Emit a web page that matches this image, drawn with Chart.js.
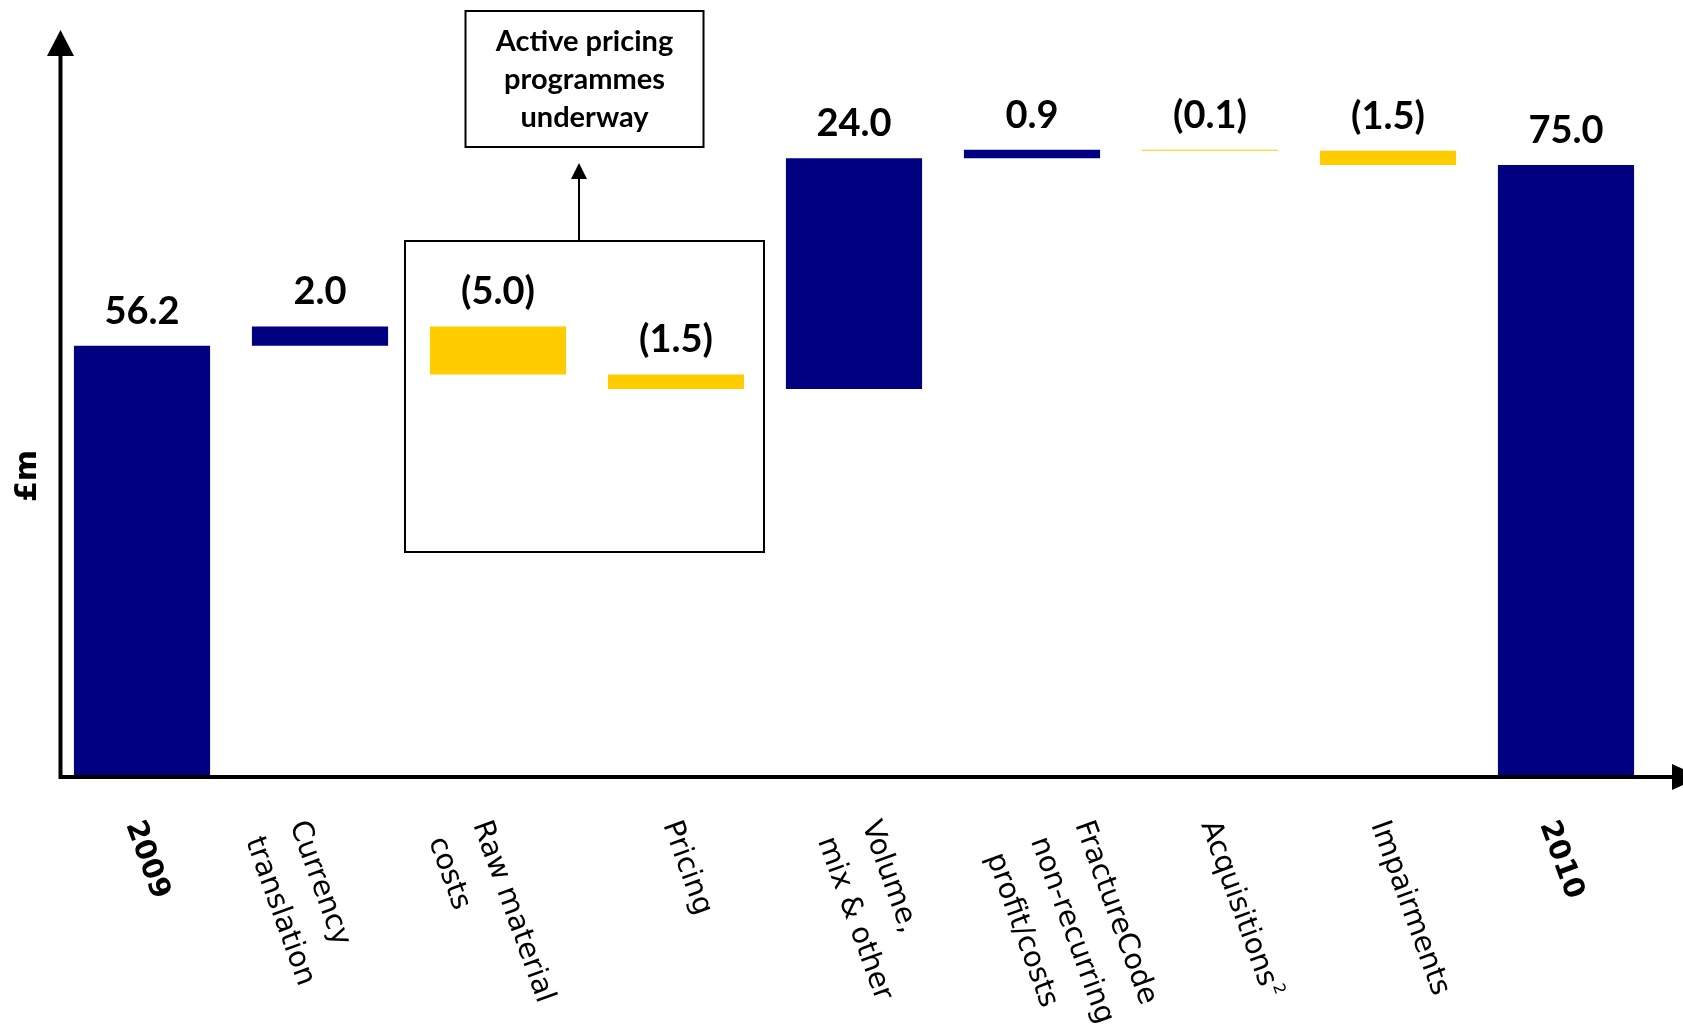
<!DOCTYPE html>
<html>
<head>
<meta charset="utf-8">
<title>Operating profit bridge 2009 - 2010</title>
<script src="https://cdn.jsdelivr.net/npm/chart.js@4.4.1/dist/chart.umd.min.js"></script>
<style>
  html, body { margin: 0; padding: 0; background: #fff; }
  canvas { display: block; }
</style>
</head>
<body>
<canvas id="bridge" width="1683" height="1028"></canvas>
<script>
'use strict';

// bridge steps (each entry is one label, split into its lines)
const steps = [
  ['2009'],
  ['Currency', 'translation'],
  ['Raw material', 'costs'],
  ['Pricing'],
  ['Volume,', 'mix & other'],
  ['FractureCode', 'non-recurring', 'profit/costs'],
  ['Acquisitions'],
  ['Impairments'],
  ['2010']
];
// £m, totals for the two years, movements in between
const movements = [56.2, 2.0, -5.0, -1.5, 24.0, 0.9, -0.1, -1.5, 75.0];
const isTotal = [true, false, false, false, false, false, false, false, true];
const footnotes = ['', '', '', '', '', '', '2', '', ''];

const Y_FLOOR = 11.5;
const Y_CEIL = 90;

const NAVY = '#000080';
const GOLD = '#FFCC00';

// small sideways nudges for the slanted category labels
const labelNudge = [-9, -23, -18, -6, 15, 50, -2, -10, -19];

// floating ranges for the waterfall
let running = 0;
const ranges = movements.map((v, i) => {
  if (isTotal[i]) {
    running = v;
    return [Y_FLOOR, v];
  }
  const start = running;
  running += v;
  return [start, running];
});

const colours = movements.map((v, i) => (isTotal[i] || v >= 0) ? NAVY : GOLD);

function valueText(v) {
  return v < 0 ? '(' + Math.abs(v).toFixed(1) + ')' : v.toFixed(1);
}

function arrowHead(ctx, tipX, tipY, baseX, baseY, half) {
  const dx = tipX - baseX, dy = tipY - baseY;
  const len = Math.hypot(dx, dy);
  const nx = -dy / len, ny = dx / len;
  ctx.beginPath();
  ctx.moveTo(tipX, tipY);
  ctx.lineTo(baseX + nx * half, baseY + ny * half);
  ctx.lineTo(baseX - nx * half, baseY - ny * half);
  ctx.closePath();
  ctx.fill();
}

const bridgeDecor = {
  id: 'bridgeDecor',
  afterDatasetsDraw(chart) {
    const ctx = chart.ctx;
    const area = chart.chartArea;
    const xs = chart.scales.x;
    const bars = chart.getDatasetMeta(0).data;

    ctx.save();
    ctx.fillStyle = '#000';
    ctx.strokeStyle = '#000';

    // axes with arrow heads
    const axisX = area.left + 7.5;
    const axisY = area.bottom + 2;
    ctx.lineWidth = 4;
    ctx.beginPath();
    ctx.moveTo(axisX, axisY + 2);
    ctx.lineTo(axisX, 50);
    ctx.moveTo(axisX - 2, axisY);
    ctx.lineTo(1675, axisY);
    ctx.stroke();
    arrowHead(ctx, axisX, 30, axisX, 56, 13.5);
    arrowHead(ctx, 1700, axisY, 1672, axisY, 13);

    // value over each bar
    ctx.font = 'bold 38px Lato';
    ctx.textAlign = 'center';
    ctx.textBaseline = 'alphabetic';
    bars.forEach((bar, i) => {
      const top = Math.min(bar.y, bar.base);
      ctx.fillText(valueText(movements[i]), bar.x, top - 22);
    });

    // box round the raw material and pricing steps
    const raw = bars[2], price = bars[3];
    const boxL = Math.round(raw.x - raw.width / 2 - 25);
    const boxR = Math.round(price.x + price.width / 2 + 20);
    const mid = (boxL + boxR) / 2;
    ctx.lineWidth = 2;
    ctx.strokeRect(boxL, 241, boxR - boxL, 311);

    // arrow up to the callout
    const ax = Math.round(mid - 6);
    ctx.beginPath();
    ctx.moveTo(ax, 241);
    ctx.lineTo(ax, 176);
    ctx.stroke();
    arrowHead(ctx, ax, 163, ax, 179, 8);

    // callout
    ctx.fillStyle = '#fff';
    ctx.fillRect(mid - 119, 11, 238, 136);
    ctx.strokeRect(mid - 119, 11, 238, 136);
    ctx.fillStyle = '#000';
    ctx.font = 'bold 29px Lato';
    ['Active pricing', 'programmes', 'underway'].forEach((t, j) => {
      ctx.fillText(t, mid, 51 + j * 38);
    });

    // unit label
    ctx.save();
    ctx.translate(28, 476);
    ctx.rotate(-Math.PI / 2);
    ctx.font = 'bold 30px "DejaVu Sans", sans-serif';
    ctx.textBaseline = 'middle';
    ctx.fillText('£m', 0, 0);
    ctx.restore();

    // slanted category labels
    const ang = 70 * Math.PI / 180;
    steps.forEach((lines, i) => {
      const cx = xs.getPixelForValue(i) + labelNudge[i];
      ctx.save();
      ctx.translate(cx, area.bottom + 47);
      ctx.rotate(ang);
      ctx.font = (isTotal[i] ? 'bold ' : '') + '29px "DejaVu Sans", Verdana, sans-serif';
      ctx.textAlign = 'left';
      ctx.textBaseline = 'middle';
      lines.forEach((t, j) => ctx.fillText(t, 0, j * 47));
      if (footnotes[i]) {
        const last = lines[lines.length - 1];
        const w = ctx.measureText(last).width;
        ctx.font = '16px "DejaVu Sans", sans-serif';
        ctx.fillText(footnotes[i], w + 2, (lines.length - 1) * 47 - 9);
      }
      ctx.restore();
    });

    ctx.restore();
  }
};

new Chart(document.getElementById('bridge'), {
  type: 'bar',
  data: {
    labels: steps.map(l => l.join(' ')),
    datasets: [{
      data: ranges,
      backgroundColor: colours,
      borderWidth: 0,
      barPercentage: 0.765,
      categoryPercentage: 1.0
    }]
  },
  options: {
    responsive: false,
    animation: false,
    devicePixelRatio: 1,
    layout: { padding: { left: 53, right: 28, top: 21, bottom: 253 } },
    plugins: {
      legend: { display: false },
      tooltip: { enabled: false }
    },
    scales: {
      x: { display: false },
      y: { display: false, min: Y_FLOOR, max: Y_CEIL }
    }
  },
  plugins: [bridgeDecor]
});
</script>
</body>
</html>
